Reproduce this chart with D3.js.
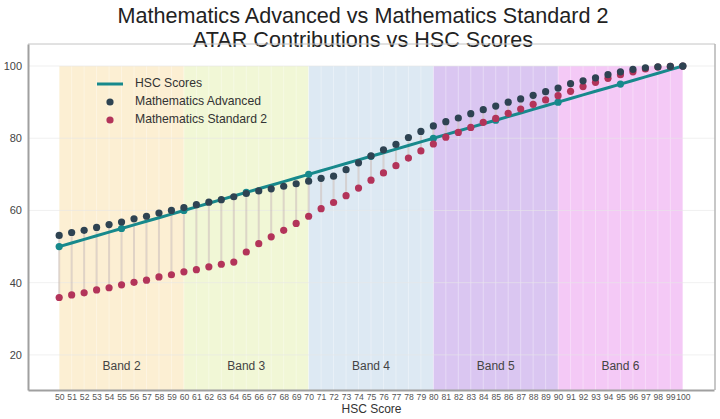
<!DOCTYPE html>
<html>
<head>
<meta charset="utf-8">
<script src="https://cdn.jsdelivr.net/npm/d3@7"></script>
<style>
  html, body { margin: 0; padding: 0; background: #fff; }
  svg { display: block; font-family: "Liberation Sans", Arial, sans-serif; }
</style>
</head>
<body>
<svg id="chart" width="720" height="419"></svg>
<script>
// ---- data ----
const hscScores = [50,51,52,53,54,55,56,57,58,59,60,61,62,63,64,65,66,67,68,69,70,71,72,73,74,75,76,77,78,79,80,81,82,83,84,85,86,87,88,89,90,91,92,93,94,95,96,97,98,99,100];
const advanced = [53.1,53.9,54.5,55.3,56.1,56.8,57.7,58.4,59.3,60.0,60.8,61.6,62.3,63.0,63.8,64.7,65.4,66.0,66.7,67.4,68.1,68.9,69.5,71.3,73.2,75.1,76.8,78.3,80.2,81.9,83.4,84.6,85.6,86.8,87.9,88.9,90.0,90.9,91.9,92.9,93.9,95.1,95.9,96.7,97.6,98.4,99.1,99.5,99.8,99.9,100];
const standard2 = [35.9,36.6,37.2,38.0,38.6,39.4,40.1,40.7,41.6,42.2,43.0,43.6,44.4,45.1,45.7,48.5,50.8,52.7,54.5,56.4,58.4,60.5,62.2,64.1,66.2,68.4,70.4,72.4,74.5,76.5,78.4,80.3,81.6,83.0,84.4,85.5,86.9,88.1,89.4,90.6,91.8,93.0,94.3,95.5,96.6,97.6,98.4,99.2,99.7,99.9,100];
const hscMarkers = [50,55,60,65,70,75,80,85,90,95,100];
const bandNames = ["Band 2","Band 3","Band 4","Band 5","Band 6"];
const bandStarts = [50,60,70,80,90];
const bandEnds = [60,70,80,90,100];
const bandTop = 100;
const bandLabelY = 16.7;
const yTicks = [20,40,60,80,100];
const xDomain = [47.5, 102.5];
const yDomain = [10.28, 106.1];
const titleLines = ["Mathematics Advanced vs Mathematics Standard 2", "ATAR Contributions vs HSC Scores"];
const seriesNames = ["HSC Scores", "Mathematics Advanced", "Mathematics Standard 2"];

// ---- styles ----
const bandColors = ["#fcefd3", "#f1f7d6", "#dde9f3", "#dac6f1", "#f4c9f6"];
const colTeal = "#17898c", colAdv = "#2e4352", colStd = "#b3345a";

// ---- layout ----
const L = 28, R = 715, T = 44, B = 390;
const svg = d3.select("#chart");
const x = d3.scaleLinear().domain(xDomain).range([L, R - 1]);
const y = d3.scaleLinear().domain(yDomain).range([B, T]);

// titles
svg.selectAll("text.title").data(titleLines).join("text")
  .attr("class", "title")
  .attr("x", 363).attr("y", (d, i) => 23 + i * 24)
  .attr("text-anchor", "middle").attr("font-size", 21.6).attr("fill", "#222")
  .text(d => d);

// bands
const bands = bandNames.map((n, i) => ({ name: n, s: bandStarts[i], e: bandEnds[i], c: bandColors[i] }));
svg.append("g").selectAll("rect").data(bands).join("rect")
  .attr("x", d => x(d.s)).attr("width", d => x(d.e) - x(d.s))
  .attr("y", y(bandTop)).attr("height", y(yDomain[0]) - y(bandTop))
  .attr("fill", d => d.c);

// gridlines
const grid = svg.append("g");
grid.selectAll("line.vx").data(hscScores).join("line")
  .attr("x1", d => x(d)).attr("x2", d => x(d)).attr("y1", T).attr("y2", B)
  .attr("stroke", "#ffffff").attr("stroke-opacity", 0.35).attr("stroke-width", 1);
grid.selectAll("line.hy").data(yTicks).join("line")
  .attr("x1", L).attr("x2", R).attr("y1", d => y(d)).attr("y2", d => y(d))
  .attr("stroke", "#e6e6e6").attr("stroke-opacity", 0.6).attr("stroke-width", 1);

// band labels
svg.append("g").selectAll("text").data(bands).join("text")
  .attr("x", d => x((d.s + d.e) / 2)).attr("y", y(bandLabelY))
  .attr("text-anchor", "middle").attr("dominant-baseline", "middle")
  .attr("font-size", 12).attr("fill", "#444").text(d => d.name);

// connectors
svg.append("g").selectAll("line").data(hscScores).join("line")
  .attr("x1", d => x(d)).attr("x2", d => x(d))
  .attr("y1", (d, i) => y(standard2[i])).attr("y2", (d, i) => y(advanced[i]))
  .attr("stroke", "#c9b9b4").attr("stroke-opacity", 0.55).attr("stroke-width", 2);

// HSC line
svg.append("path").datum(hscScores)
  .attr("d", d3.line().x(d => x(d)).y(d => y(d)))
  .attr("fill", "none").attr("stroke", colTeal).attr("stroke-width", 3);
svg.append("g").selectAll("circle").data(hscMarkers).join("circle")
  .attr("cx", d => x(d)).attr("cy", d => y(d)).attr("r", 3.6).attr("fill", colTeal);

// points
svg.append("g").selectAll("circle").data(hscScores).join("circle")
  .attr("cx", d => x(d)).attr("cy", (d, i) => y(standard2[i])).attr("r", 3.6).attr("fill", colStd);
svg.append("g").selectAll("circle").data(hscScores).join("circle")
  .attr("cx", d => x(d)).attr("cy", (d, i) => y(advanced[i])).attr("r", 3.6).attr("fill", colAdv);

// frame
svg.append("line").attr("x1", L).attr("x2", R).attr("y1", T).attr("y2", T).attr("stroke", "#c4c4c4");
svg.append("line").attr("x1", R).attr("x2", R).attr("y1", T).attr("y2", B).attr("stroke", "#b4b4b4").attr("stroke-width", 1.5);

// axes
const yAxis = d3.axisLeft(y).tickValues(yTicks).tickSize(0).tickPadding(6);
svg.append("g").attr("transform", `translate(${L},0)`).call(yAxis)
  .call(g => g.select(".domain").attr("stroke", "#a0a0a0").attr("stroke-width", 2))
  .call(g => g.selectAll("text").attr("font-size", 11).attr("fill", "#444").attr("font-family", "Liberation Sans, Arial, sans-serif"));
const xAxis = d3.axisBottom(x).tickValues(hscScores).tickFormat(d3.format("d")).tickSize(0).tickPadding(4);
svg.append("g").attr("transform", `translate(0,${B})`).call(xAxis)
  .call(g => g.select(".domain").attr("stroke", "#a0a0a0").attr("stroke-width", 2))
  .call(g => g.selectAll("text").attr("font-size", 8.6).attr("fill", "#555").attr("font-family", "Liberation Sans, Arial, sans-serif"));

svg.append("text").attr("x", (L + R) / 2).attr("y", 413).attr("text-anchor", "middle")
  .attr("font-size", 12).attr("fill", "#333").text("HSC Score");

// legend
const lg = svg.append("g");
lg.append("line").attr("x1", 97).attr("x2", 123).attr("y1", 84).attr("y2", 84)
  .attr("stroke", colTeal).attr("stroke-width", 3);
lg.append("circle").attr("cx", 110).attr("cy", 102).attr("r", 3.6).attr("fill", colAdv);
lg.append("circle").attr("cx", 110).attr("cy", 120).attr("r", 3.6).attr("fill", colStd);
lg.selectAll("text").data(seriesNames).join("text")
  .attr("x", 135).attr("y", (d, i) => 84 + i * 18).attr("dominant-baseline", "middle")
  .attr("font-size", 12.2).attr("fill", "#333").text(d => d);
</script>
</body>
</html>
